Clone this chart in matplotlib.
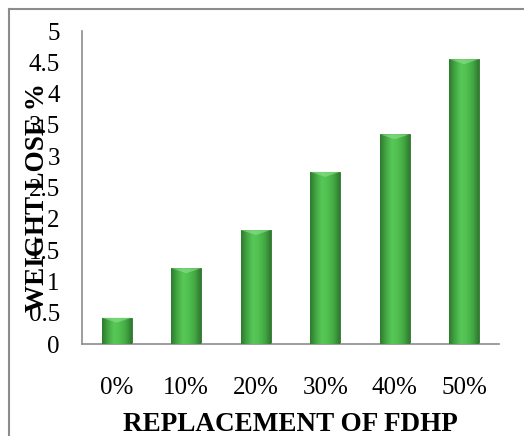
import numpy as np
import matplotlib
matplotlib.use("Agg")
import matplotlib.pyplot as plt
from matplotlib.colors import LinearSegmentedColormap

categories = ["0%", "10%", "20%", "30%", "40%", "50%"]
weight_loss = [0.42, 1.21, 1.82, 2.75, 3.35, 4.55]

plt.rcParams["font.family"] = ["Liberation Serif", "DejaVu Serif"]

fig = plt.figure(figsize=(5.24, 4.36), dpi=100)
# chart area border (left and top visible)
fig.add_artist(plt.Line2D([9/524, 9/524], [0, 1 - 9/436], color="#8c8c8c", lw=1.5))
fig.add_artist(plt.Line2D([9/524, 1], [1 - 9/436, 1 - 9/436], color="#8c8c8c", lw=1.5))

ax = fig.add_axes([82/524, 1 - 344/436, 417/524, 313/436])
x = np.arange(len(categories))
bars = ax.bar(x, weight_loss, width=0.43, color="#45b045", edgecolor="#2f6f2f",
              linewidth=0.6, zorder=2)

# shaded cylinder look for each bar
cmap = LinearSegmentedColormap.from_list("barshade", ["#2f7a2f", "#44a844", "#58c858", "#4fbf4f", "#44a844", "#2f7a2f"])
shade = np.tile(np.linspace(0, 1, 64), (64, 1))
for b in bars:
    x0, w, h = b.get_x(), b.get_width(), b.get_height()
    im = ax.imshow(shade, cmap=cmap, extent=[x0, x0 + w, 0, h], aspect="auto",
                   interpolation="bicubic", zorder=3)
    im.set_clip_path(b)
    # lighter bevel at the top
    ax.fill([x0, x0 + w, x0 + w * 0.5], [h, h, h - 0.08], color="#8fe08f", alpha=0.6, zorder=4, lw=0)

ax.set_xlim(-0.5, 5.5)
ax.set_ylim(0, 5)
ax.set_yticks(np.arange(0, 5.01, 0.5))
ax.set_yticklabels(["0", "0.5", "1", "1.5", "2", "2.5", "3", "3.5", "4", "4.5", "5"])
ax.set_xticks(x)
ax.set_xticklabels(categories)
ax.tick_params(axis="both", length=0, labelsize=18)
ax.tick_params(axis="x", pad=24)
ax.tick_params(axis="y", pad=16)
for s in ["top", "right"]:
    ax.spines[s].set_visible(False)
ax.spines["left"].set_color("#8c8c8c")
ax.spines["bottom"].set_color("#8c8c8c")
ax.spines["left"].set_linewidth(1.2)
ax.spines["bottom"].set_linewidth(1.2)

ax.set_xlabel("REPLACEMENT OF FDHP", fontsize=19.5, fontweight="bold", labelpad=9)
fig.text(38/524, 1 - 198/436, "WEIGHT LOSE %", rotation=90, fontsize=19.5,
         fontweight="bold", ha="center", va="center")

fig.savefig("out.png", dpi=100)
